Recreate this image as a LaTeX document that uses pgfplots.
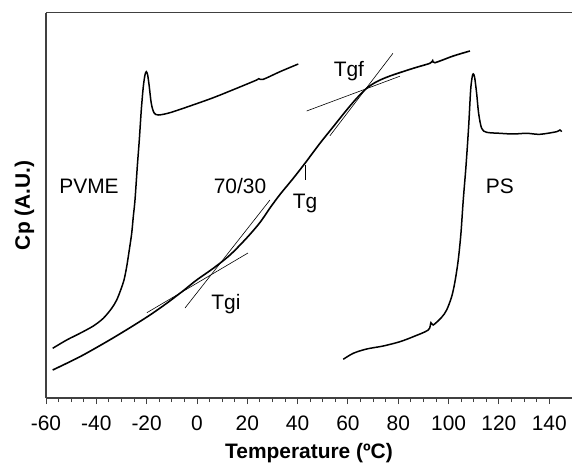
\documentclass[border=0pt]{standalone}
\usepackage{fontspec}
\setmainfont{Liberation Sans}
\usepackage{pgfplots}
\pgfplotsset{compat=1.18}
\begin{document}
\begin{tikzpicture}
\begin{axis}[
  scale only axis, width=526bp, height=385.3bp,
  xmin=-60, xmax=149.05, ymin=0, ymax=385.3,
  axis lines=left, axis line style={-, line width=1.2bp, black!75},
  xtick={-60,-40,...,140}, minor x tick num=3,
  ytick=\empty,
  tick align=outside, major tick length=6bp, minor tick length=4bp,
  every tick/.style={line width=0.9bp, black!75},
  xticklabel style={anchor=base, yshift=-26bp, font=\fontsize{21}{24}\selectfont, /pgf/number format/assume math mode=true},
  clip=false,
]
% PVME
\addplot[black, line width=1.5bp, smooth] coordinates {
(-57.34,49.7) (-51.77,58) (-46.49,64.7) (-41.2,72) (-37.23,79.7) (-33.89,89.7)
(-31.91,98) (-30.32,108) (-29.0,118) (-27.93,131.3) (-26.9,148) (-25.94,164.7)
(-25.31,181.3) (-24.63,198) (-23.72,231.3) (-22.92,258) (-22.13,288) (-21.33,311.3)
(-20.66,323) (-20.14,326.3) (-19.59,323) (-18.95,311.3) (-18.16,294.7) (-17.08,285.3)
(-15.37,283) (-10.73,285.3) (-2.78,292) (6.48,300.3) (15.78,309.7) (23.73,318)
(24.52,319.3) (26.35,318.7) (32.99,326.3) (40.26,334)
};
% 70/30
\addplot[black, line width=1.6bp, smooth] coordinates {
(-57.34,28) (-46.49,41.3) (-35.88,56.3) (-26.62,70.3) (-18.67,83) (-12.04,94.7)
(-5.44,107.3) (-0.12,118) (6.48,129.7) (13.12,143) (19.75,160) (25.04,175.5)
(29.01,190) (32.99,203.5) (38.27,219.7) (42.92,234.7) (48.88,254.7) (54.17,271.3)
(59.49,288) (63.47,299.7) (67.44,309.7) (71.41,316.3) (76.70,322) (85.96,329.7)
(92.59,334.7) (93.67,337.3) (94.58,335.3) (101.85,342) (108.49,347)
};
% PS
\addplot[black, line width=1.5bp, smooth] coordinates {
(58.14,38.7) (62.11,44.7) (67.44,49) (74.04,52) (80.67,56.3) (85.96,61.3)
(91.92,68) (92.99,75.3) (93.90,73) (97.24,80.7) (99.23,88) (101.22,101.3)
(102.53,116.3) (103.84,138) (104.91,164.7) (105.83,198) (106.90,231.3)
(107.97,271.3) (108.77,308) (109.40,321.3) (109.80,324) (110.35,320.7)
(111.15,304.7) (111.94,284.7) (113.14,269.7) (115.12,265.7) (120.41,264.7)
(125.69,264) (131.02,264.7) (136.30,263.7) (142.94,266.3) (144.25,268) (144.93,266.3)
};
% tangent lines
\addplot[black, line width=0.6bp] coordinates {(-19.9,85.3) (20.27,145)};
\addplot[black, line width=0.6bp] coordinates {(-4.76,90) (29.01,198)};
\addplot[black, line width=0.6bp] coordinates {(43.6,287) (80.67,321.8)};
\addplot[black, line width=0.6bp] coordinates {(52.86,262.3) (77.89,344.7)};
% Tg marker
\addplot[black, line width=0.6bp] coordinates {(42.92,233) (42.92,218)};
% labels
\node[anchor=base, font=\fontsize{21}{24}\selectfont] at (axis cs:-42.91,204) {PVME};
\node[anchor=base, font=\fontsize{21}{24}\selectfont] at (axis cs:17.09,204) {70/30};
\node[anchor=base, font=\fontsize{21}{24}\selectfont] at (axis cs:120.41,204.7) {PS};
\node[anchor=base, font=\fontsize{21}{24}\selectfont] at (axis cs:42.92,189.7) {Tg};
\node[anchor=base, font=\fontsize{21}{24}\selectfont] at (axis cs:60.4,321.3) {Tgf};
\node[anchor=base, font=\fontsize{21}{24}\selectfont] at (axis cs:11.53,88.7) {Tgi};
\node[anchor=base, font=\bfseries\fontsize{21}{24}\selectfont] at ([yshift=-60bp]rel axis cs:0.5,0) {Temperature (ºC)};
\node[anchor=base, rotate=90, font=\bfseries\fontsize{21}{24}\selectfont] at ([xshift=-16bp]rel axis cs:0,0.5) {Cp (A.U.)};
\draw[line width=1.2bp, black!75] (rel axis cs:0,1) -- (rel axis cs:1,1);
\coordinate (bl) at (rel axis cs:0,0);
\coordinate (tr) at (rel axis cs:1,1);
\end{axis}
\pgfresetboundingbox
\path[use as bounding box] ([xshift=-46bp,yshift=-68bp]bl) rectangle ([yshift=12.7bp]tr);
\end{tikzpicture}
\end{document}
